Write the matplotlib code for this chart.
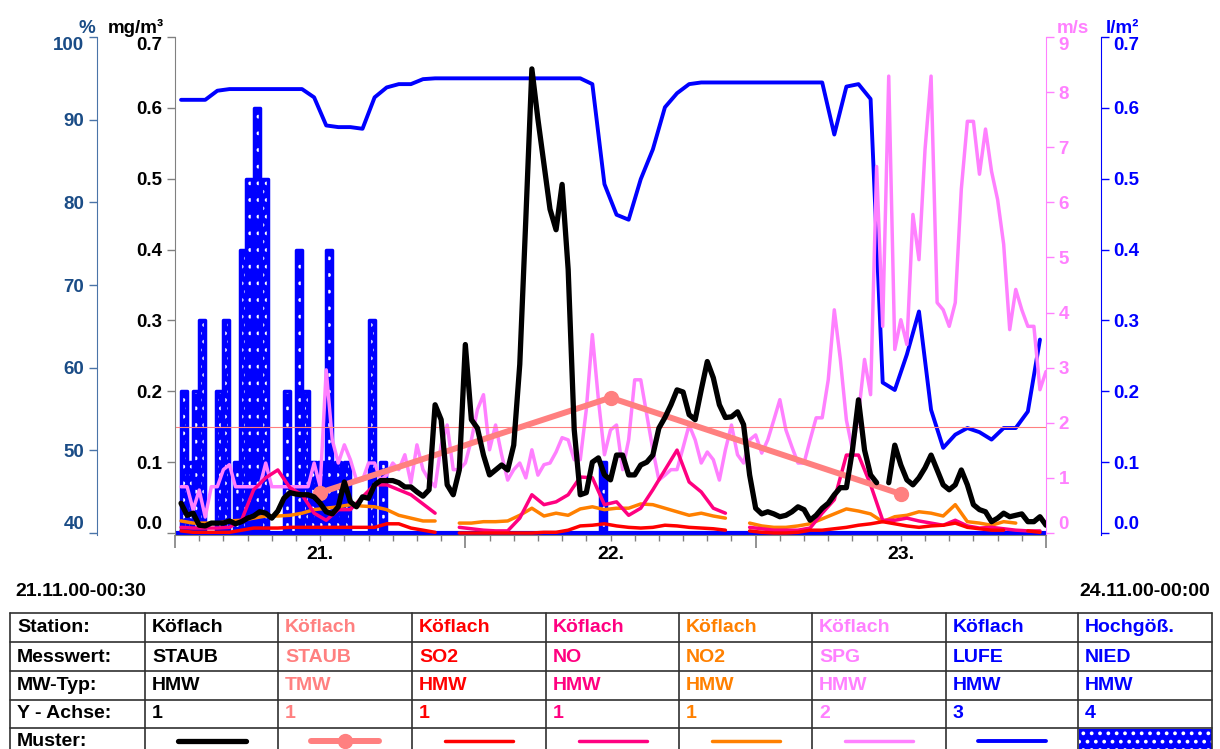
import numpy as np
import matplotlib
matplotlib.use("Agg")
import matplotlib.pyplot as plt
from matplotlib.patches import Rectangle

plt.rcParams['font.family'] = ['Liberation Sans', 'DejaVu Sans']
plt.rcParams['font.weight'] = 'bold'
plt.rcParams['lines.solid_capstyle'] = 'round'
plt.rcParams['lines.solid_joinstyle'] = 'round'
plt.rcParams['hatch.linewidth'] = 1.5

nan = np.nan

# STAUB HMW, half-hourly from 21.11 00:30 (mg/m3)
staub = [0.042, 0.025, 0.028, 0.011, 0.010, 0.014, 0.014, 0.014, 0.017, 0.013,
         0.016, 0.021, 0.024, 0.030, 0.028, 0.021, 0.031, 0.049, 0.057, 0.055,
         0.054, 0.054, 0.051, 0.042, 0.030, 0.027, 0.037, 0.072, 0.044, 0.037,
         0.051, 0.049, 0.068, 0.074, 0.074, 0.074, 0.071, 0.065, 0.065, 0.058,
         0.052, 0.061, 0.181, 0.160, 0.068, 0.054, 0.089, 0.266, 0.160, 0.148,
         0.110, 0.082, 0.089, 0.096, 0.089, 0.124, 0.238, 0.443, 0.655, 0.584,
         0.520, 0.457, 0.428, 0.492, 0.372, 0.146, 0.054, 0.057, 0.100, 0.106,
         0.082, 0.075, 0.110, 0.110, 0.082, 0.082, 0.096, 0.100, 0.110, 0.148,
         0.163, 0.181, 0.202, 0.199, 0.167, 0.160, 0.202, 0.242, 0.219, 0.181,
         0.163, 0.164, 0.171, 0.153, 0.082, 0.035, 0.027, 0.030, 0.027, 0.023,
         0.025, 0.030, 0.037, 0.033, 0.018, 0.025, 0.035, 0.042, 0.054, 0.064,
         0.064, 0.117, 0.188, 0.117, 0.082, 0.071, nan, 0.071, 0.124, 0.096,
         0.075, 0.068, 0.078, 0.092, 0.110, 0.089, 0.068, 0.061, 0.068, 0.089,
         0.068, 0.040, 0.033, 0.030, 0.016, 0.021, 0.028, 0.023, 0.025, 0.027,
         0.016, 0.016, 0.023, 0.011]

# SPG wind speed, half-hourly (m/s)
spg = [0.84, 0.84, 0.42, 0.78, 0.29, 0.84, 0.84, 1.15, 1.24, 0.84,
       0.84, 0.84, 0.84, 0.84, 1.27, 0.84, 0.84, 0.84, 0.84, 0.84,
       0.84, 0.84, 1.27, 0.84, 2.96, 1.69, 1.27, 1.60, 1.33, 0.96,
       0.96, 1.27, 1.27, 0.96, 1.05, 1.27, 1.15, 1.42, 0.91, 1.60,
       1.15, 0.96, 0.84, 1.60, 1.96, 1.15, 1.15, 1.27, 1.69, 2.24,
       2.51, 1.51, 1.96, 1.42, 0.96, 1.15, 1.27, 1.00, 1.51, 1.05,
       1.24, 1.27, 1.47, 1.73, 1.69, 1.33, 1.33, 2.24, 3.60, 2.42,
       1.42, 1.87, 1.96, 1.15, 1.69, 2.78, 2.78, 2.15, 1.51, 0.96,
       1.05, 1.15, 1.15, 1.55, 1.96, 1.69, 1.27, 1.47, 1.33, 0.96,
       1.51, 1.96, 1.42, 1.27, 1.69, 1.78, 1.45, 1.69, 2.05, 2.42,
       1.87, 1.56, 1.27, 1.27, 1.69, 2.09, 2.09, 2.78, 4.05, 3.15,
       2.05, 1.51, 2.15, 3.15, 2.51, 6.65, 3.75, 8.29, 3.33, 3.87,
       3.42, 5.78, 4.96, 6.96, 8.29, 4.18, 4.05, 3.75, 4.18, 6.24,
       7.47, 7.47, 6.51, 7.33, 6.56, 6.05, 5.24, 3.69, 4.42, 4.05,
       3.75, 3.75, 2.60, 2.93]

# hourly values (at hh:30)
lufe = [92.4, 92.4, 92.4, 93.5, 93.7, 93.7, 93.7, 93.7, 93.7, 93.7,
        93.7, 92.7, 89.3, 89.1, 89.1, 88.9, 92.7, 93.9, 94.3, 94.3,
        94.9, 95.0, 95.0, 95.0, 95.0, 95.0, 95.0, 95.0, 95.0, 95.0,
        95.0, 95.0, 95.0, 95.0, 94.3, 82.2, 78.5, 77.9, 82.8, 86.4,
        91.5, 93.2, 94.3, 94.5, 94.5, 94.5, 94.5, 94.5, 94.5, 94.5,
        94.5, 94.5, 94.5, 94.5, 88.2, 94.0, 94.3, 92.5, 58.2, 57.3,
        61.6, 66.8, 54.9, 50.3, 51.9, 52.7, 52.2, 51.3, 52.7, 52.7,
        54.7, 63.4]

no = [0.008, 0.007, 0.007, 0.007, 0.008, 0.018, 0.061, 0.078, 0.089, 0.064,
      0.054, 0.028, 0.018, 0.033, 0.033, 0.051, 0.068, 0.068, 0.061, 0.054,
      0.041, 0.028, nan, 0.008, 0.006, 0.004, 0.003, 0.003, 0.021, 0.054,
      0.040, 0.044, 0.054, 0.079, 0.078, 0.040, 0.044, 0.025, 0.035, 0.061,
      0.089, 0.117, 0.072, 0.058, 0.035, 0.028, nan, 0.008, 0.006, 0.004,
      0.004, 0.004, 0.007, 0.028, 0.047, 0.110, 0.110, 0.068, 0.018, 0.018,
      0.021, 0.017, 0.014, 0.011, 0.018, 0.010, 0.007, 0.008, 0.006, 0.004,
      0.003, 0.003]

no2 = [0.017, 0.014, 0.014, 0.014, 0.017, 0.018, 0.021, 0.024, 0.024, 0.025,
       0.028, 0.033, 0.035, 0.037, 0.040, 0.038, 0.037, 0.033, 0.025, 0.021,
       0.017, 0.017, nan, 0.014, 0.014, 0.016, 0.016, 0.017, 0.025, 0.035,
       0.024, 0.028, 0.025, 0.034, 0.037, 0.033, 0.035, 0.035, 0.041, 0.040,
       0.035, 0.030, 0.025, 0.028, 0.024, 0.021, nan, 0.014, 0.010, 0.008,
       0.008, 0.010, 0.013, 0.020, 0.027, 0.034, 0.031, 0.027, 0.016, 0.023,
       0.025, 0.030, 0.028, 0.024, 0.040, 0.016, 0.014, 0.011, 0.016, 0.014,
       nan, nan]

so2 = [0.003, 0.001, 0.001, 0.001, 0.001, 0.004, 0.007, 0.007, 0.007, 0.008,
       0.008, 0.008, 0.008, 0.008, 0.008, 0.008, 0.008, 0.013, 0.013, 0.007,
       0.004, 0.001, nan, 0.000, 0.000, 0.000, 0.000, 0.000, 0.000, 0.000,
       0.001, 0.001, 0.004, 0.010, 0.011, 0.013, 0.010, 0.008, 0.007, 0.008,
       0.011, 0.010, 0.008, 0.007, 0.006, 0.004, nan, 0.003, 0.001, 0.000,
       0.000, 0.001, 0.004, 0.004, 0.006, 0.008, 0.011, 0.013, 0.016, 0.013,
       0.010, 0.008, 0.010, 0.011, 0.014, 0.008, 0.006, 0.004, 0.004, nan,
       0.003, 0.001]

# STAUB TMW (daily means, plotted at noon)
staub_tmw_t = [12, 36, 60]
staub_tmw = [0.057, 0.191, 0.055]
staub_limit = 0.15

# NIED precipitation bars: hour since 21.11 00:00, l/m2
nied_t = [0.75, 1.25, 1.75, 2.25, 3.6, 4.25, 5.1, 5.6, 6.1, 6.8, 7.4,
          9.25, 10.25, 10.8, 11.4, 12.1, 12.75, 13.5, 14.25, 16.3, 17.2, 35.4]
nied = [0.2, 0.1, 0.2, 0.3, 0.2, 0.3, 0.1, 0.4, 0.5, 0.6, 0.5,
        0.2, 0.4, 0.2, 0.1, 0.1, 0.4, 0.1, 0.1, 0.3, 0.1, 0.1]

day_labels = ["21.", "22.", "23."]
start_label = "21.11.00-00:30"
end_label = "24.11.00-00:00"

# legend table
row_labels = ["Station:", "Messwert:", "MW-Typ:", "Y - Achse:", "Muster:"]
stations = ["Köflach"] * 7 + ["Hochgöß."]
components = ["STAUB", "STAUB", "SO2", "NO", "NO2", "SPG", "LUFE", "NIED"]
mw_types = ["HMW", "TMW", "HMW", "HMW", "HMW", "HMW", "HMW", "HMW"]
y_axes = ["1", "1", "1", "1", "1", "2", "3", "4"]

BLACK = "#000000"
SALMON = "#ff8080"
RED = "#ff0000"
MAGENTA = "#ff0080"
ORANGE = "#ff8000"
PINK = "#ff80ff"
BLUE = "#0000ff"
PCT = "#1a4c86"
PCT_LINE = "#4a74a8"
GRAY = "#808080"
col_colors = [BLACK, SALMON, RED, MAGENTA, ORANGE, PINK, BLUE, BLUE]

t_half = np.arange(1, len(staub) + 1) * 0.5
t_hour = np.arange(len(lufe)) + 0.5

fig = plt.figure(figsize=(12.2, 7.49), dpi=100)

# pixel-space overlay for table and free texts
tax = fig.add_axes([0, 0, 1, 1])
tax.set_xlim(0, 1220)
tax.set_ylim(749, 0)
tax.axis('off')

ax = fig.add_axes([175 / 1220, 1 - 535 / 749, 871 / 1220, 498 / 749])
ax_spg = ax.twinx()
ax_pct = ax.twinx()
ax_nied = ax.twinx()

ax_nied.set_zorder(2)
ax_pct.set_zorder(3)
ax_spg.set_zorder(4)
ax.set_zorder(5)
for a in (ax, ax_spg, ax_pct, ax_nied):
    a.patch.set_visible(False)
for a in (ax_spg, ax_pct, ax_nied):
    for s in a.spines.values():
        s.set_visible(False)

# precipitation bars with white dots
ax_nied.bar(nied_t, nied, width=0.5, color=BLUE, edgecolor='white',
            linewidth=0, hatch='..', zorder=2)
ax_nied.bar(nied_t, nied, width=0.5, fill=False, edgecolor=BLUE,
            linewidth=2.5, joinstyle='round', zorder=3)
ax_nied.axhline(0, color=BLUE, lw=3, zorder=4)

ax_pct.plot(t_hour, lufe, color=BLUE, lw=2.8)
ax_spg.plot(t_half, spg, color=PINK, lw=2.5)

ax.axhline(staub_limit, color=SALMON, lw=0.8)
ax.plot(t_hour, no2, color=ORANGE, lw=2.5)
ax.plot(t_hour, no, color=MAGENTA, lw=2.5)
ax.plot(t_hour, so2, color=RED, lw=2.5)
ax.plot(staub_tmw_t, staub_tmw, color=SALMON, lw=4.3, marker='o', ms=10)
ax.plot(t_half, staub, color=BLACK, lw=3.8)

# x axis
ax.set_xlim(0, 72)
ax.set_xticks([0, 24, 48, 72])
ax.set_xticklabels([])
ax.set_xticks(np.arange(0, 73, 2), minor=True)
ax.tick_params(axis='x', which='major', length=9, width=1.2, color=GRAY)
ax.tick_params(axis='x', which='minor', length=4, width=1, color=GRAY)
for i, lab in enumerate(day_labels):
    ax.text(12 + 24 * i, -0.04, lab, transform=ax.get_xaxis_transform(),
            ha='center', va='center', fontsize=14)

# y axes
ax.spines['top'].set_visible(False)
ax.spines['right'].set_visible(False)
ax.spines['left'].set_color(GRAY)
ax.spines['bottom'].set_color(GRAY)
ax.set_ylim(-0.0028, 0.7)
ax.set_yticks(np.arange(0, 0.71, 0.1))
ax.set_yticklabels(["0.0", "0.1", "0.2", "0.3", "0.4", "0.5", "0.6", "0.7"])
ax.tick_params(axis='y', length=6, width=1, color=GRAY, labelsize=13.5,
               labelcolor=BLACK, pad=3)

ax_pct.spines['left'].set_visible(True)
ax_pct.spines['left'].set_position(('axes', -78 / 871))
ax_pct.spines['left'].set_color(PCT_LINE)
ax_pct.yaxis.set_ticks_position('left')
ax_pct.set_ylim(39.76, 100)
ax_pct.set_yticks(np.arange(40, 101, 10))
ax_pct.tick_params(axis='y', length=6, width=1, color=PCT_LINE, labelsize=13.5,
                   labelcolor=PCT, pad=3)

ax_spg.spines['right'].set_visible(True)
ax_spg.spines['right'].set_color(PINK)
ax_spg.set_ylim(-0.036, 9)
ax_spg.set_yticks(np.arange(0, 10, 1))
ax_spg.tick_params(axis='y', length=6, width=1, color=PINK, labelsize=13.5,
                   labelcolor=PINK, pad=3)

ax_nied.spines['right'].set_visible(True)
ax_nied.spines['right'].set_position(('axes', 926 / 871))
ax_nied.spines['right'].set_color(BLUE)
ax_nied.set_ylim(-0.0028, 0.7)
ax_nied.set_yticks(np.arange(0, 0.71, 0.1))
ax_nied.set_yticklabels(["0.0", "0.1", "0.2", "0.3", "0.4", "0.5", "0.6", "0.7"])
ax_nied.tick_params(axis='y', length=6, width=1, color=BLUE, labelsize=13.5,
                    labelcolor=BLUE, pad=3)

# keep end labels inside the axis range
for a in (ax, ax_pct, ax_spg, ax_nied):
    labs = a.get_yticklabels()
    labs[0].set_va('bottom')
    labs[-1].set_va('top')

# unit labels
tax.text(87, 33, "%", color=PCT, fontsize=13.5, ha='center', va='baseline')
tax.text(136, 33, "mg/m³", color=BLACK, fontsize=13.5, ha='center', va='baseline')
tax.text(1073, 33, "m/s", color=PINK, fontsize=13.5, ha='center', va='baseline')
tax.text(1122, 33, "l/m²", color=BLUE, fontsize=13.5, ha='center', va='baseline')

tax.text(15, 592, start_label, fontsize=14, ha='left', va='center')
tax.text(1210, 592, end_label, fontsize=14, ha='right', va='center')

# legend table
col_x = [10, 145, 278, 412, 546, 679, 812, 946, 1078, 1212]
row_y = [613, 642, 671, 700, 728]
for y in row_y:
    tax.plot([col_x[0], col_x[-1]], [y, y], color='#303030', lw=1.2)
for x in col_x:
    tax.plot([x, x], [row_y[0], 749], color='#303030', lw=1.2)

row_text_y = [628, 657, 686, 714, 741]
for lab, y in zip(row_labels, row_text_y):
    tax.text(17, y, lab, fontsize=14, ha='left', va='center')

for i, col in enumerate(col_colors):
    x0 = col_x[i + 1] + 7
    for vals, y in zip((stations, components, mw_types, y_axes), row_text_y):
        tax.text(x0, y, vals[i], color=col, fontsize=14, ha='left', va='center')

sample_lw = [3.8, 4.3, 2.5, 2.5, 2.5, 2.5, 2.8]
for i in range(7):
    cx = (col_x[i + 1] + col_x[i + 2]) / 2
    tax.plot([cx - 34, cx + 34], [741, 741], color=col_colors[i], lw=sample_lw[i])
    if i == 1:
        tax.plot([cx], [741], 'o', color=col_colors[i], ms=10)
tax.add_patch(Rectangle((col_x[8] + 1, 729), col_x[9] - col_x[8] - 1, 22,
                        facecolor=BLUE, edgecolor='white', lw=0, hatch='..'))

fig.savefig("out.png", dpi=100)
